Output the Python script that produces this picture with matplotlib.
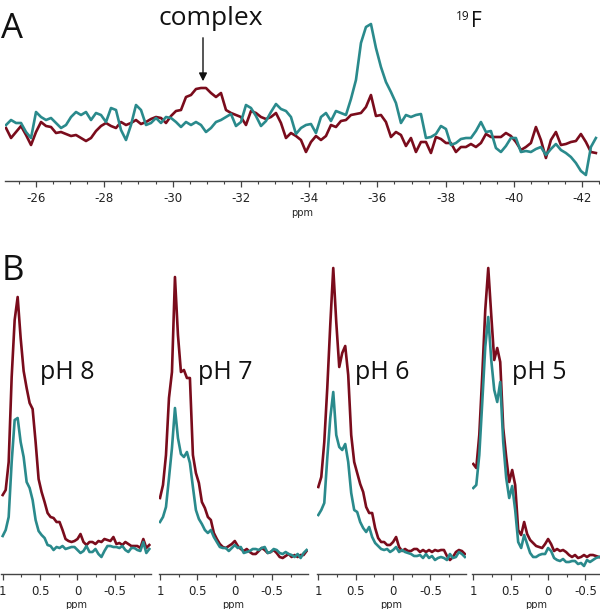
import numpy as np
import matplotlib
matplotlib.use('Agg')
import matplotlib.pyplot as plt
from matplotlib.ticker import MultipleLocator

RED = '#7a0c1c'
TEAL = '#2a8a8c'

# ---- panel A: 19F spectra (ppm grid, intensity in arbitrary units) ----
ppm_a = np.linspace(-25.12, -42.40, 119)

teal_a = [56, 61, 58, 58, 49, 43, 69, 64, 61, 63, 58, 53, 56, 64, 69, 66, 69, 61, 68, 66,
          59, 73, 71, 51, 41, 56, 76, 71, 56, 58, 63, 58, 64, 63, 59, 54, 59, 56, 59,
          56, 49, 53, 59, 61, 64, 67, 55, 59, 76, 73, 65, 55, 60, 69, 77, 72, 70, 64, 47,
          53, 56, 57, 48, 64, 68, 60, 70, 68, 66, 82, 101, 138, 154, 157, 133, 114, 99, 89, 78,
          58, 66, 64, 66, 67, 43, 44, 47, 55, 52, 36, 38, 42, 43, 43, 50, 59, 49, 50, 33,
          29, 35, 43, 43, 29, 30, 29, 32, 34, 26, 32, 37, 31, 28, 24, 18, 10, 6, 34, 43]

red_a = [53, 43, 49, 55, 46, 36, 49, 59, 55, 54, 48, 49, 47, 45, 46, 43, 40, 43, 50, 55,
         58, 55, 53, 59, 56, 58, 61, 57, 59, 62, 64, 63, 58, 65, 70, 71, 84, 86, 92,
         93, 93, 88, 84, 88, 71, 68, 66, 64, 56, 70, 68, 64, 62, 64, 68, 58, 43, 48, 45,
         41, 29, 39, 45, 41, 45, 56, 54, 60, 61, 66, 67, 68, 74, 86, 65, 66, 59, 44, 49,
         46, 35, 43, 29, 39, 39, 28, 44, 42, 38, 38, 29, 34, 34, 37, 34, 38, 47, 44, 44,
         44, 48, 45, 39, 31, 34, 38, 54, 41, 23, 41, 49, 36, 37, 39, 40, 47, 39, 29, 28]

# ---- panel B: pH series ----
ph_labels = ['pH 8', 'pH 7', 'pH 6', 'pH 5']
ppm_b = np.linspace(1.0, -0.96, 50)
ppm_b5 = np.linspace(1.0, -0.68, 43)

red_b = [
    [79, 84, 112, 197, 254, 277, 236, 203, 186, 171, 165, 132, 95, 82, 72, 61, 57, 56, 52, 52,
     44, 35, 33, 32, 33, 35, 40, 32, 29, 32, 32, 30, 33, 32, 35, 34, 33, 37, 30, 31,
     29, 32, 30, 28, 28, 28, 26, 35, 26, 29],
    [76, 89, 119, 176, 202, 297, 239, 202, 204, 196, 196, 119, 101, 91, 72, 66, 57, 54, 41, 35,
     30, 27, 26, 28, 30, 33, 28, 25, 23, 25, 22, 20, 20, 23, 26, 24, 21, 22, 24, 21,
     17, 16, 18, 20, 17, 19, 17, 19, 19, 23],
    [87, 97, 132, 186, 249, 306, 252, 207, 221, 228, 199, 139, 112, 101, 90, 82, 67, 61, 61, 46,
     36, 32, 32, 29, 29, 32, 37, 27, 23, 25, 23, 23, 25, 25, 22, 24, 22, 24, 22, 24,
     23, 24, 24, 18, 14, 17, 22, 24, 23, 20],
    [110, 106, 139, 199, 264, 306, 259, 214, 226, 212, 146, 117, 92, 104, 89, 44, 39, 52, 40, 34,
     31, 28, 27, 26, 30, 35, 30, 23, 25, 23, 24, 22, 19, 17, 19, 16, 17, 19, 17, 19,
     19, 18, 17],
]

teal_b = [
    [38, 44, 57, 112, 154, 156, 132, 117, 92, 86, 74, 54, 43, 39, 36, 29, 28, 24, 27, 26,
     28, 25, 26, 27, 27, 24, 21, 23, 28, 22, 22, 25, 20, 17, 23, 28, 28, 27, 27, 26,
     28, 24, 22, 26, 26, 24, 23, 32, 21, 25],
    [52, 57, 67, 96, 126, 166, 136, 120, 117, 122, 111, 87, 64, 55, 50, 44, 41, 44, 37, 32,
     27, 26, 26, 23, 26, 29, 26, 27, 21, 22, 23, 25, 25, 24, 26, 27, 21, 22, 25, 24,
     21, 20, 22, 20, 19, 17, 20, 16, 21, 24],
    [59, 64, 71, 116, 156, 182, 139, 127, 124, 130, 112, 81, 64, 62, 52, 46, 42, 47, 37, 31,
     28, 25, 24, 25, 22, 24, 27, 22, 24, 22, 21, 20, 18, 18, 19, 16, 20, 16, 18, 14,
     16, 17, 16, 14, 20, 16, 17, 22, 20, 17],
    [86, 89, 119, 172, 227, 257, 214, 184, 172, 192, 132, 96, 76, 88, 64, 32, 26, 39, 30, 21,
     17, 17, 19, 20, 20, 26, 23, 16, 14, 13, 15, 12, 12, 13, 13, 10, 11, 8, 14, 12,
     14, 16, 17],
]

fig = plt.figure(figsize=(6.0, 6.09), dpi=100)
W, H = 600.0, 609.0


def style_axis(ax):
    for s in ['top', 'left', 'right']:
        ax.spines[s].set_visible(False)
    ax.spines['bottom'].set_color('#444444')
    ax.spines['bottom'].set_linewidth(1.0)
    ax.set_yticks([])
    ax.tick_params(axis='x', which='major', length=4, width=0.9, color='#444444',
                   labelsize=8.5, pad=4, labelcolor='#222222')
    ax.tick_params(axis='x', which='minor', length=2.5, width=0.8, color='#444444')
    ax.patch.set_alpha(0)


# panel A
axA = fig.add_axes([5 / W, 1 - 181 / H, 595 / W, 171 / H])
axA.plot(ppm_a, red_a, color=RED, lw=1.9)
axA.plot(ppm_a, teal_a, color=TEAL, lw=1.9)
axA.set_xlim(-25.09, -42.52)
axA.set_ylim(0, 171)
axA.xaxis.set_major_locator(MultipleLocator(2))
axA.xaxis.set_minor_locator(MultipleLocator(0.5))
axA.xaxis.set_major_formatter(plt.FuncFormatter(lambda v, p: '%d' % v))
style_axis(axA)
axA.set_xlabel('ppm', fontsize=7, labelpad=2, color='#222222')

# panel B
lefts = [1.2, 158.5, 316.8, 471.8]
rights = [-0.98, -0.98, -0.98, -0.694]
text_x = [40, 198, 355, 512]
for i in range(4):
    width = (1.02 - rights[i]) * 74.8
    ax = fig.add_axes([lefts[i] / W, 1 - 574 / H, width / W, 312 / H])
    x = ppm_b5 if i == 3 else ppm_b
    ax.plot(x, red_b[i], color=RED, lw=1.9)
    ax.plot(x, teal_b[i], color=TEAL, lw=1.9)
    ax.set_xlim(1.02, rights[i])
    ax.set_ylim(0, 312)
    ax.xaxis.set_major_locator(MultipleLocator(0.5))
    ax.xaxis.set_minor_locator(MultipleLocator(0.25))
    ax.xaxis.set_major_formatter(plt.FuncFormatter(lambda v, p: '%g' % v))
    style_axis(ax)
    ax.set_xlabel('ppm', fontsize=7, labelpad=1, color='#222222')
    fig.text(text_x[i] / W, 1 - 379 / H, ph_labels[i], fontsize=18,
             family='Open Sans', color='#111111', va='baseline', ha='left')

# labels and annotations
fig.text(1 / W, 1 - 38 / H, 'A', fontsize=25, family='Open Sans', va='baseline', color='#111111')
fig.text(2 / W, 1 - 280 / H, 'B', fontsize=25, family='Open Sans', va='baseline', color='#111111')
fig.text(211 / W, 1 - 25 / H, 'complex', fontsize=19, family='Open Sans', ha='center',
         va='baseline', color='#111111')
fig.add_artist(matplotlib.patches.FancyArrowPatch(
    (203 / W, 1 - 35 / H), (203 / W, 1 - 84 / H), transform=fig.transFigure,
    arrowstyle='-|>', mutation_scale=12, color='#111111', lw=1.0))
fig.text(471 / W, 1 - 27 / H, 'F', fontsize=15, family='Open Sans', ha='left',
         va='baseline', color='#111111')
fig.text(470 / W, 1 - 10 / H, '19', fontsize=8.5, family='Open Sans', ha='right',
         va='top', color='#111111')

fig.savefig('out.png', dpi=100, facecolor='white')
